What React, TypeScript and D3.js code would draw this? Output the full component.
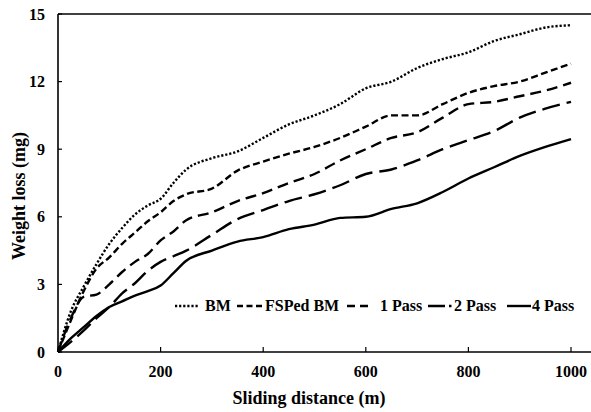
import React from 'react';
import * as d3 from 'd3';

const WIDTH = 591;
const HEIGHT = 412;
const MARGIN = { top: 14, left: 58 };
const X0 = 58;
const X1000 = 571;
const Y0 = 352;
const Y15 = 14;

const distance = [0, 25, 50, 75, 100, 125, 150, 175, 200, 225, 250, 300, 350, 400, 450, 500, 550, 600, 650, 700, 750, 800, 850, 900, 950, 1000];
const bm = [0, 1.8, 2.9, 3.9, 4.8, 5.5, 6.1, 6.5, 6.8, 7.5, 8.1, 8.6, 8.9, 9.5, 10.1, 10.5, 11.0, 11.7, 12.0, 12.6, 13.0, 13.3, 13.8, 14.1, 14.4, 14.5];
const fsped = [0, 1.4, 2.7, 3.7, 4.2, 4.8, 5.3, 5.8, 6.2, 6.7, 7.0, 7.25, 8.05, 8.45, 8.8, 9.1, 9.5, 10.0, 10.5, 10.5, 11.0, 11.5, 11.8, 12.0, 12.4, 12.8];
const pass1 = [0, 1.5, 2.45, 2.55, 3.0, 3.55, 4.0, 4.35, 4.95, 5.35, 5.85, 6.2, 6.7, 7.05, 7.5, 7.9, 8.5, 9.0, 9.5, 9.75, 10.4, 11.0, 11.1, 11.35, 11.6, 11.95];
const pass2 = [0, 0.45, 0.95, 1.5, 2.0, 2.6, 3.05, 3.6, 4.0, 4.25, 4.5, 5.2, 5.9, 6.3, 6.7, 7.0, 7.4, 7.9, 8.1, 8.5, 9.0, 9.4, 9.8, 10.4, 10.8, 11.1];
const pass4 = [0, 0.6, 1.1, 1.6, 2.0, 2.25, 2.5, 2.7, 2.95, 3.5, 4.05, 4.5, 4.9, 5.1, 5.45, 5.65, 5.95, 6.0, 6.35, 6.6, 7.1, 7.7, 8.2, 8.7, 9.1, 9.45];

const seriesNames = ['BM', 'FSPed BM', '1 Pass', '2 Pass', '4 Pass'];
const seriesValues = [bm, fsped, pass1, pass2, pass4];
const dashes = ['2.2 1.9', '7 3.5', '11 6', '18 7', ''];

const xTicks = [0, 200, 400, 600, 800, 1000];
const yTicks = [0, 3, 6, 9, 12, 15];

const FONT = "'Liberation Serif', 'Times New Roman', 'DejaVu Serif', serif";

// legend layout: [sampleStart, sampleEnd, textStart]
const legendLayout = [
  [175, 198, 205],
  [237, 262, 265],
  [347, 370, 380],
  [428, 452, 454],
  [507, 531, 532],
];
const legendDash = ['2.2 1.9', '6 3.5', '8 5', '17 4 2.5', ''];

export default function App() {
  const x = d3.scaleLinear().domain([0, 1000]).range([X0, X1000]);
  const y = d3.scaleLinear().domain([0, 15]).range([Y0, Y15]);
  const line = d3.line<number>()
    .x((_, i) => x(distance[i]))
    .y((v) => y(v))
    .curve(d3.curveMonotoneX);

  return (
    <svg width={WIDTH} height={HEIGHT}
      style={{ position: 'absolute', left: 0, top: 0, background: '#fff', fontFamily: FONT, fontWeight: 'bold' }}
      xmlns="http://www.w3.org/2000/svg">
      <g fill="#000">
        {/* frame */}
        <line x1={MARGIN.left} x2={WIDTH} y1={Y15} y2={Y15} stroke="#000" strokeWidth={1.6} />
        <line x1={MARGIN.left} x2={MARGIN.left} y1={Y15} y2={Y0} stroke="#000" strokeWidth={1.6} />
        <line x1={MARGIN.left} x2={WIDTH} y1={Y0} y2={Y0} stroke="#000" strokeWidth={1.6} />

        {yTicks.map((t) => (
          <g key={'y' + t}>
            <line x1={X0} x2={X0 + 4} y1={y(t)} y2={y(t)} stroke="#000" strokeWidth={1.2} />
            <text x={45} y={y(t)} dy="0.35em" textAnchor="end" fontSize={16}>{t}</text>
          </g>
        ))}
        {xTicks.map((t) => (
          <g key={'x' + t}>
            <line x1={x(t)} x2={x(t)} y1={Y0} y2={Y0 - 5} stroke="#000" strokeWidth={1.2} />
            <text x={x(t)} y={377} textAnchor="middle" fontSize={16}>{t}</text>
          </g>
        ))}

        <text x={309} y={404} textAnchor="middle" fontSize={18}>Sliding distance (m)</text>
        <text transform="translate(25,196) rotate(-90)" textAnchor="middle" fontSize={18}>Weight loss (mg)</text>

        {seriesValues.map((vals, i) => (
          <path key={seriesNames[i]} d={line(vals) || ''} fill="none" stroke="#000"
            strokeWidth={2.4} strokeDasharray={dashes[i] || undefined} />
        ))}

        {seriesNames.map((name, i) => (
          <g key={'lg' + name}>
            <line x1={legendLayout[i][0]} x2={legendLayout[i][1]} y1={306} y2={306}
              stroke="#000" strokeWidth={2.4} strokeDasharray={legendDash[i] || undefined} />
            <text x={legendLayout[i][2]} y={311} fontSize={16}>{name}</text>
          </g>
        ))}
      </g>
    </svg>
  );
}
